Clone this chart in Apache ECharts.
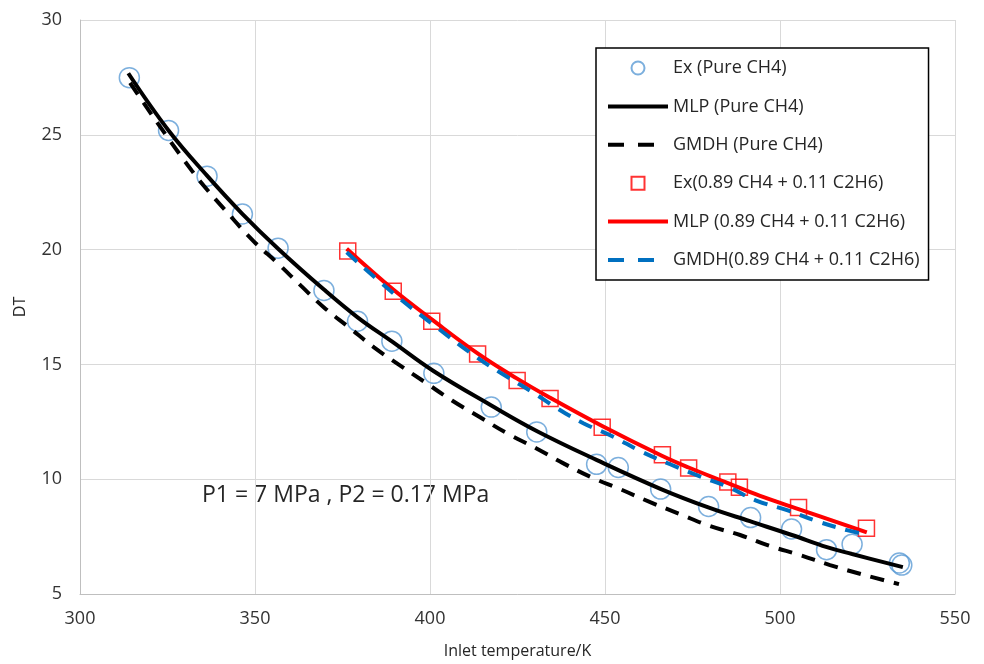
<!DOCTYPE html>
<html>
<head>
<meta charset="utf-8">
<script src="https://cdn.jsdelivr.net/npm/echarts@6/dist/echarts.min.js"></script>
<style>html,body{margin:0;padding:0;background:#fff}#c{width:984px;height:664px}</style>
</head>
<body>
<div id="c"></div>
<script>
// Ex (Pure CH4): [T, DT]
const exPure = [[314.1,27.49],[325.3,25.19],[336.3,23.2],[346.4,21.55],[356.6,20.06],[369.7,18.22],[379.3,16.88],[389.1,16.01],[401.1,14.61],[417.5,13.14],[430.5,12.06],[447.6,10.65],[453.8,10.51],[465.9,9.57],[479.6,8.81],[491.6,8.33],[503.3,7.83],[513.3,6.93],[520.6,7.17],[534.1,6.35],[534.8,6.26]];
// MLP (Pure CH4)
const mlpPure = [[313.8,27.68],[325.3,25.19],[336.3,23.22],[346.3,21.57],[356.6,20.04],[369.7,18.26],[379.4,17.04],[389.1,16.0],[401.1,14.7],[417.4,13.22],[430.6,12.09],[447.7,10.83],[466,9.57],[479.7,8.76],[491.4,8.17],[503.4,7.57],[513.4,7.04],[520.6,6.74],[535.1,6.17]];
// GMDH (Pure CH4)
const gmdhPure = [[314.3,27.26],[332,23.43],[343.4,21.39],[349.7,20.35],[356.6,19.39],[363.1,18.43],[369.7,17.48],[376.9,16.61],[384,15.74],[391.4,14.96],[398.6,14.22],[406.3,13.43],[414.3,12.7],[422,12.0],[430.3,11.35],[438,10.7],[446,10.09],[454.3,9.57],[462.9,9.0],[471.4,8.48],[480,7.96],[488.6,7.57],[497.1,7.09],[505.7,6.7],[514.3,6.26],[523.1,5.87],[534,5.43]];
// Ex (0.89 CH4 + 0.11 C2H6)
const exMix = [[376.5,19.94],[389.5,18.19],[400.5,16.88],[413.6,15.45],[424.9,14.3],[434.3,13.52],[449.2,12.26],[466.4,11.06],[473.9,10.49],[485.1,9.88],[488.4,9.65],[505.3,8.77],[524.7,7.86]];
// MLP (0.89 CH4 + 0.11 C2H6)
const mlpMix = [[376.2,20.04],[389.5,18.26],[400.5,16.96],[413.6,15.48],[424.9,14.38],[434.3,13.55],[449.2,12.32],[466.4,11.01],[473.9,10.51],[485.1,9.83],[494.3,9.27],[505.3,8.7],[524.8,7.68]];
// GMDH (0.89 CH4 + 0.11 C2H6)
const gmdhMix = [[376.2,19.88],[389.5,18.1],[400.5,16.78],[413.6,15.28],[421.9,14.47],[429.5,13.77],[436,13.12],[443.8,12.44],[452.5,11.84],[460,11.23],[468.6,10.65],[477.1,10.12],[485.2,9.66],[493.2,9.07],[502,8.65],[510.6,8.17],[519.1,7.78],[523,7.64]];

const seriesNames = ['Ex (Pure CH4)','MLP (Pure CH4)','GMDH (Pure CH4)','Ex(0.89 CH4 + 0.11 C2H6)','MLP (0.89 CH4 + 0.11 C2H6)','GMDH(0.89 CH4 + 0.11 C2H6)'];
const xTitle = 'Inlet temperature/K';
const yTitle = 'DT';
const note = 'P1 = 7 MPa , P2 = 0.17 MPa';

const FONT = 'Open Sans';
const hideSym = {opacity: 0};
const squareIcon = 'path://M0,0 L10,0 L10,10 L0,10 Z';
const chart = echarts.init(document.getElementById('c'), null, {renderer:'canvas'});
chart.setOption({
  animation: false,
  backgroundColor: '#fff',
  textStyle: {fontFamily: FONT},
  grid: {left: 80, right: 29, top: 20, bottom: 69, containLabel: false},
  xAxis: {
    type: 'value', min: 300, max: 550, interval: 50,
    name: xTitle, nameLocation: 'middle', nameGap: 49,
    nameTextStyle: {fontSize: 16, color: '#262626', fontFamily: FONT},
    axisLine: {show: true, lineStyle: {color: '#bfbfbf', width: 1}},
    axisTick: {show: false},
    axisLabel: {fontSize: 18, color: '#333', margin: 16},
    splitLine: {show: true, lineStyle: {color: '#d9d9d9', width: 1}}
  },
  yAxis: {
    type: 'value', min: 5, max: 30, interval: 5,
    name: yTitle, nameLocation: 'middle', nameGap: 52, nameRotate: 90,
    nameTextStyle: {fontSize: 16, color: '#262626', fontFamily: FONT},
    axisLine: {show: true, lineStyle: {color: '#bfbfbf', width: 1}},
    axisTick: {show: false},
    axisLabel: {fontSize: 18, color: '#333', margin: 18},
    splitLine: {show: true, lineStyle: {color: '#d9d9d9', width: 1}}
  },
  legend: {
    orient: 'vertical', left: 596, top: 48,
    backgroundColor: '#fff', borderColor: '#000', borderWidth: 1.5,
    padding: [11, 9, 11, 10],
    itemWidth: 60, itemHeight: 13, itemGap: 20.4,
    textStyle: {fontSize: 18, lineHeight: 18, color: '#262626', fontFamily: FONT},
    data: [
      {name: seriesNames[0], icon: 'circle'},
      {name: seriesNames[1], itemStyle: hideSym, lineStyle: {width: 4, color: '#000'}},
      {name: seriesNames[2], itemStyle: hideSym, lineStyle: {width: 4, color: '#000', type: [16, 14]}},
      {name: seriesNames[3], icon: squareIcon},
      {name: seriesNames[4], itemStyle: hideSym, lineStyle: {width: 4, color: '#ff0000'}},
      {name: seriesNames[5], itemStyle: hideSym, lineStyle: {width: 4, color: '#0070c0', type: [16, 14]}}
    ]
  },
  graphic: [{
    type: 'text', x: 202, y: 495,
    style: {text: note, font: '23px "Open Sans"', fill: '#262626', verticalAlign: 'middle'}
  }],
  series: [
    {name: seriesNames[0], type: 'scatter', data: exPure, symbol: 'circle', symbolSize: 20,
     itemStyle: {color: 'rgba(0,0,0,0)', borderColor: '#5b9bd5', borderWidth: 1.5}, z: 2},
    {name: seriesNames[1], type: 'line', data: mlpPure, smooth: 0.4, symbol: 'none', showSymbol: false,
     lineStyle: {color: '#000', width: 4}, itemStyle: {color: '#000'}, z: 3},
    {name: seriesNames[2], type: 'line', data: gmdhPure, smooth: 0.4, symbol: 'none', showSymbol: false,
     lineStyle: {color: '#000', width: 4, type: [14, 10]}, itemStyle: {color: '#000'}, z: 3},
    {name: seriesNames[3], type: 'scatter', data: exMix, symbol: 'rect', symbolSize: 16,
     itemStyle: {color: 'rgba(0,0,0,0)', borderColor: '#ff0000', borderWidth: 1.5}, z: 4},
    {name: seriesNames[4], type: 'line', data: mlpMix, smooth: 0.4, symbol: 'none', showSymbol: false,
     lineStyle: {color: '#ff0000', width: 4}, itemStyle: {color: '#ff0000'}, z: 5},
    {name: seriesNames[5], type: 'line', data: gmdhMix, smooth: 0.4, symbol: 'none', showSymbol: false,
     lineStyle: {color: '#0070c0', width: 4, type: [14, 10]}, itemStyle: {color: '#0070c0'}, z: 5}
  ]
});
</script>
</body>
</html>
